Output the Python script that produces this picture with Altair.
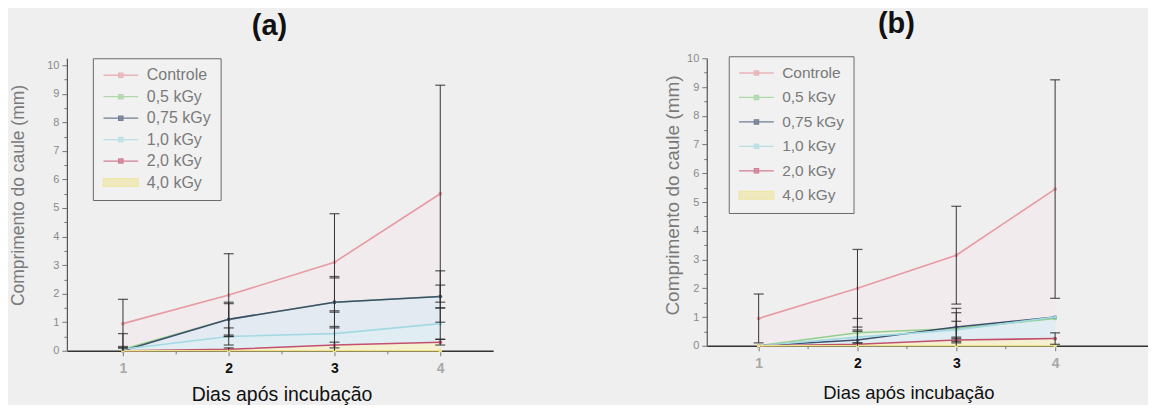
import altair as alt
import pandas as pd

days = [1, 2, 3, 4]
series_names = ["Controle", "0,5 kGy", "0,75 kGy", "1,0 kGy", "2,0 kGy", "4,0 kGy"]
line_colors = ["#e79aa1", "#93cf8c", "#3e4f6e", "#a3d9e2", "#c2506f", "#efe389"]
fill_colors = ["#f2ebed", "#e9f1e7", "#e3eaf2", "#e0edf2", "#f4f0d0", "#f4f0d1"]
legend_paths = [
    "M-2.9,0H2.9M-0.35,-0.35H0.35V0.35H-0.35Z",
    "M-2.9,0H2.9M-0.35,-0.35H0.35V0.35H-0.35Z",
    "M-2.9,0H2.9M-0.35,-0.35H0.35V0.35H-0.35Z",
    "M-2.9,0H2.9M-0.35,-0.35H0.35V0.35H-0.35Z",
    "M-2.9,0H2.9M-0.35,-0.35H0.35V0.35H-0.35Z",
    "M-2.9,-0.65H2.9V0.65H-2.9Z",
]
x_tick_values = [1, 1.5, 2, 2.5, 3, 3.5, 4]
y_tick_values = [0, 0.5, 1, 1.5, 2, 2.5, 3, 3.5, 4, 4.5, 5, 5.5, 6, 6.5, 7, 7.5, 8, 8.5, 9, 9.5, 10]

# Panel (a): means and standard deviations
a_controle = [0.95, 1.95, 3.1, 5.5]
a_05 = [0.05, 1.1, 1.7, 1.9]
a_075 = [0.0, 1.1, 1.7, 1.9]
a_10 = [0.05, 0.5, 0.6, 0.95]
a_20 = [0.0, 0.05, 0.2, 0.3]
a_40 = [0.0, 0.0, 0.0, 0.0]
a_sd_controle = [0.85, 1.45, 1.7, 3.8]
a_sd_05 = [0.55, 0.55, 0.9, 0.4]
a_sd_075 = [0.1, 0.6, 0.85, 0.9]
a_sd_10 = [0.1, 0.3, 0.75, 0.55]
a_sd_20 = [0.0, 0.05, 0.1, 0.1]
a_sd_40 = [0.0, 0.0, 0.0, 0.0]

# Panel (b)
b_controle = [0.95, 2.0, 3.15, 5.45]
b_05 = [0.0, 0.45, 0.6, 0.95]
b_075 = [0.0, 0.2, 0.65, 1.0]
b_10 = [0.0, 0.3, 0.55, 1.0]
b_20 = [0.0, 0.05, 0.2, 0.25]
b_40 = [0.0, 0.0, 0.0, 0.0]
b_sd_controle = [0.85, 1.35, 1.7, 3.8]
b_sd_05 = [0.0, 0.5, 0.7, 0.0]
b_sd_075 = [0.0, 0.35, 0.5, 0.0]
b_sd_10 = [0.0, 0.2, 0.3, 0.0]
b_sd_20 = [0.0, 0.05, 0.1, 0.2]
b_sd_40 = [0.0, 0.0, 0.0, 0.0]

FONT = "Liberation Sans"


def build_table(means, sds):
    rows = []
    for i, name in enumerate(series_names):
        for j, d in enumerate(days):
            m = means[i][j]
            s = sds[i][j]
            rows.append({
                "series": name, "day": d, "y": m,
                "lo": max(0.0, m - s), "hi": m + s, "sd": s,
                "linecol": line_colors[i], "fillcol": fill_colors[i],
            })
    return pd.DataFrame(rows)


def panel(df, width, height, xdom, ydom, title_text, title_offset, title_dx,
          xt_x, xt_y, xt_size, yt_x, yt_y, yt_size, leg_x, leg_y, leg_font, leg_rowpad):
    x_axis = alt.Axis(values=x_tick_values, title="Dias após incubação",
                      labelExpr="datum.value % 1 == 0 ? format(datum.value, 'd') : ''",
                      labelOverlap=False,
                      labelFontSize=14, labelFontWeight="bold",
                      labelColor={"condition": {"test": "datum.value == 2 || datum.value == 3", "value": "#111111"}, "value": "#a8a8a8"},
                      tickSize={"condition": {"test": "datum.value % 1 == 0", "value": 5}, "value": 3},
                      tickColor="#777777", domainColor="#333333", domainWidth=1.5,
                      labelPadding=6, titleFontSize=xt_size, titleFontWeight="normal",
                      titleColor="#111111", titleX=xt_x, titleY=xt_y,
                      titleAlign="center", titleBaseline="middle")
    y_axis = alt.Axis(values=y_tick_values, title="Comprimento do caule (mm)",
                      labelExpr="datum.value % 1 == 0 ? format(datum.value, 'd') : ''",
                      labelOverlap=False, labelBound=False,
                      labelFontSize=11, labelColor="#8a8a8a",
                      tickSize={"condition": {"test": "datum.value % 1 == 0", "value": 5}, "value": 3},
                      tickColor="#777777", domainColor="#555555", domainWidth=1.2,
                      labelPadding=3, titleFontSize=yt_size, titleFontWeight="normal",
                      titleColor="#7a7a7a", titleX=yt_x, titleY=yt_y,
                      titleAlign="center", titleBaseline="middle", titleAngle=270)
    xs = alt.Scale(domain=xdom, nice=False, zero=False)
    ys = alt.Scale(domain=ydom, nice=False)

    def X():
        return alt.X("day:Q", scale=xs, axis=x_axis)

    def Y(field):
        return alt.Y(field, scale=ys, axis=y_axis, stack=None)

    base = alt.Chart(df)
    areas = base.mark_area(opacity=1).encode(
        x=X(), y=Y("y:Q"),
        color=alt.Color("fillcol:N", scale=None), detail="series:N")
    lines = base.mark_line(strokeWidth=1.6, point=alt.OverlayMarkDef(size=14, filled=True)).encode(
        x=X(), y=Y("y:Q"),
        color=alt.Color("linecol:N", scale=None), detail="series:N")
    err_df = df[df["sd"] > 0]
    rules = alt.Chart(err_df).mark_rule(color="#333333", strokeWidth=1).encode(
        x=X(), y=Y("lo:Q"), y2="hi:Q")
    caps_hi = alt.Chart(err_df).mark_tick(color="#222222", orient="horizontal", size=10, thickness=1.3).encode(
        x=X(), y=Y("hi:Q"))
    caps_lo = alt.Chart(err_df[err_df["lo"] > 0]).mark_tick(color="#222222", orient="horizontal", size=10, thickness=1.3).encode(
        x=X(), y=Y("lo:Q"))
    leg = alt.Legend(title=None, orient="none", legendX=leg_x, legendY=leg_y,
                     strokeColor="#6a6a6a", fillColor="#f1f1f1", padding=9,
                     labelFont=FONT, labelFontSize=leg_font, labelColor="#7a7a7a",
                     symbolSize=144, symbolStrokeWidth=1.3, symbolOffset=11,
                     labelOffset=18, rowPadding=leg_rowpad)
    legend_layer = base.mark_point(filled=True, strokeWidth=1.3).encode(
        x=X(), y=Y("y:Q"),
        fill=alt.Fill("series:N", scale=alt.Scale(domain=series_names, range=line_colors), legend=leg),
        stroke=alt.Stroke("series:N", scale=alt.Scale(domain=series_names, range=line_colors), legend=leg),
        shape=alt.Shape("series:N", scale=alt.Scale(domain=series_names, range=legend_paths), legend=leg),
    ).transform_filter("false")
    return alt.layer(areas, lines, rules, caps_hi, caps_lo, legend_layer).properties(
        width=width, height=height,
        title=alt.TitleParams(title_text, fontSize=29, fontWeight="bold", font=FONT,
                              color="#111111", offset=title_offset, dx=title_dx, frame="group"))


df_a = build_table([a_controle, a_05, a_075, a_10, a_20, a_40],
                   [a_sd_controle, a_sd_05, a_sd_075, a_sd_10, a_sd_20, a_sd_40])
df_b = build_table([b_controle, b_05, b_075, b_10, b_20, b_40],
                   [b_sd_controle, b_sd_05, b_sd_075, b_sd_10, b_sd_20, b_sd_40])

pa = panel(df_a, 427, 293, [0.47, 4.5], [0, 10.245], "(a)", 16.5, -10.5,
           215, 44, 19.5, -48, 137, 17.5, 26, 0, 16, 5.5)
pb = panel(df_b, 442, 288, [0.475, 4.94], [0, 10], "(b)", 13, -31,
           202, 47, 18.5, -34, 137, 19, 22, -2, 15.5, 7.5)

chart = alt.hconcat(pa, pb, spacing=170).resolve_scale(
    fill="independent", stroke="independent", shape="independent",
    x="independent", y="independent"
).resolve_legend(
    fill="independent", stroke="independent", shape="independent"
).properties(
    padding={"left": 1, "top": 2, "right": 0, "bottom": 0},
    background="#efefef",
).configure_view(strokeWidth=0).configure_axis(
    grid=False, labelFont=FONT, titleFont=FONT
).configure_title(font=FONT)

chart.save("out.html", embed_options={"renderer": "svg", "actions": False})
